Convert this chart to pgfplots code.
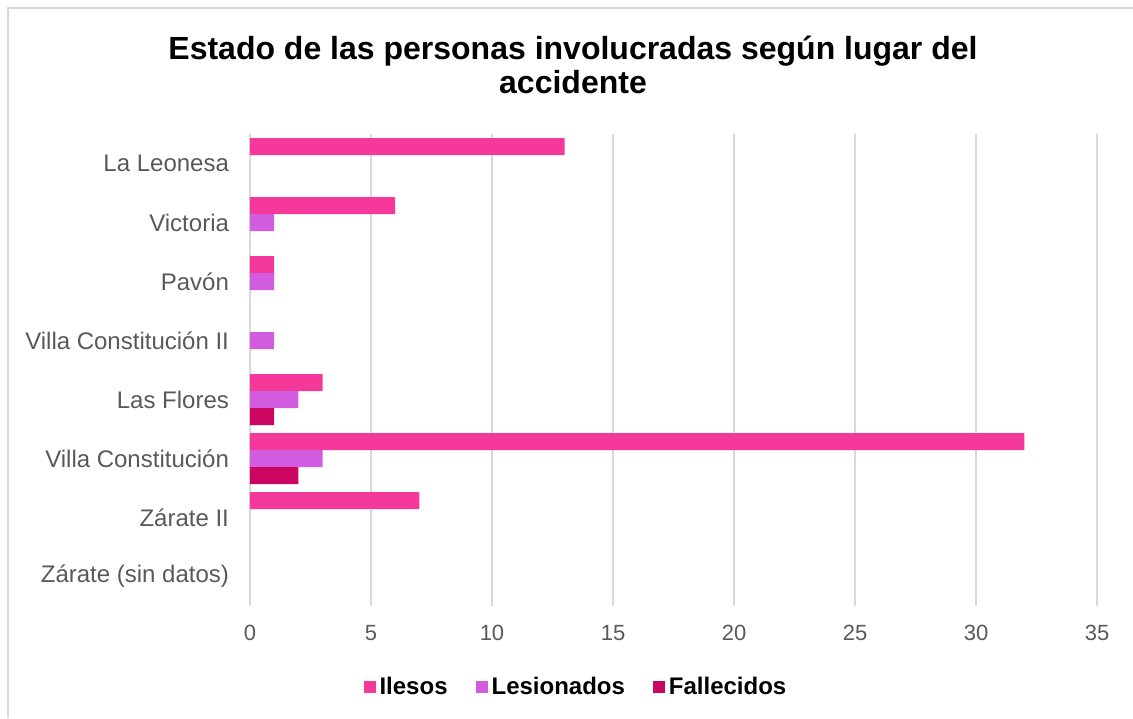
\documentclass[border=0pt]{standalone}
\usepackage{pgfplots}
\pgfplotsset{compat=1.18}
\usepackage{fontspec}
\setmainfont{Liberation Sans}
\definecolor{ilesos}{HTML}{F4399A}
\definecolor{lesion}{HTML}{D25CDF}
\definecolor{fallec}{HTML}{CB0660}
\definecolor{gridgray}{HTML}{D9D9D9}
\definecolor{ticktext}{HTML}{595959}
\begin{document}
\begin{tikzpicture}
\path[use as bounding box] (-125pt,-56pt) rectangle (441.5pt,303pt);
\draw[gridgray, line width=1pt] (-121pt,-56pt) -- (-121pt,299pt) -- (441.5pt,299pt);
\node[align=center, font=\fontsize{16}{17}\selectfont\bfseries] at (161.5pt,270.5pt)
  {Estado de las personas involucradas según lugar del\\accidente};
\begin{axis}[
  at={(0,0)}, anchor=south west,
  scale only axis, width=423.5pt, height=236pt,
  xbar, bar width=8.5pt,
  xmin=0, xmax=35, ymin=-0.5, ymax=7.5, y dir=reverse,
  ytick={0,...,7},
  yticklabels={La Leonesa, Victoria, Pavón, Villa Constitución II, Las Flores, Villa Constitución, Zárate II, Zárate (sin datos)},
  xtick={0,5,...,35},
  xmajorgrids, grid style={gridgray, line width=1pt},
  axis line style={draw=none}, major tick length=0pt,
  tick label style={text=ticktext},
  /pgf/number format/assume math mode=true,
  yticklabel style={xshift=-7pt, font=\fontsize{12}{14}\selectfont},
  xticklabel style={yshift=-6pt, font=\fontsize{11}{13}\selectfont},
  legend columns=3,
  legend style={at={(0.386,-0.1716)}, anchor=center, draw=none, fill=none,
    font=\fontsize{12}{14}\selectfont\bfseries,
    /tikz/every even column/.append style={column sep=12pt}},
  legend image code/.code={\fill[#1] (0pt,-3pt) rectangle (6pt,3pt);},
]
\addplot[fill=ilesos, draw=none, bar shift=8.5pt] coordinates {(13,0) (6,1) (1,2) (3,4) (32,5) (7,6)};
\addplot[fill=lesion, draw=none, bar shift=0pt] coordinates {(1,1) (1,2) (1,3) (2,4) (3,5)};
\addplot[fill=fallec, draw=none, bar shift=-8.5pt] coordinates {(1,4) (2,5)};
\legend{Ilesos, Lesionados, Fallecidos}
\end{axis}
\end{tikzpicture}
\end{document}
